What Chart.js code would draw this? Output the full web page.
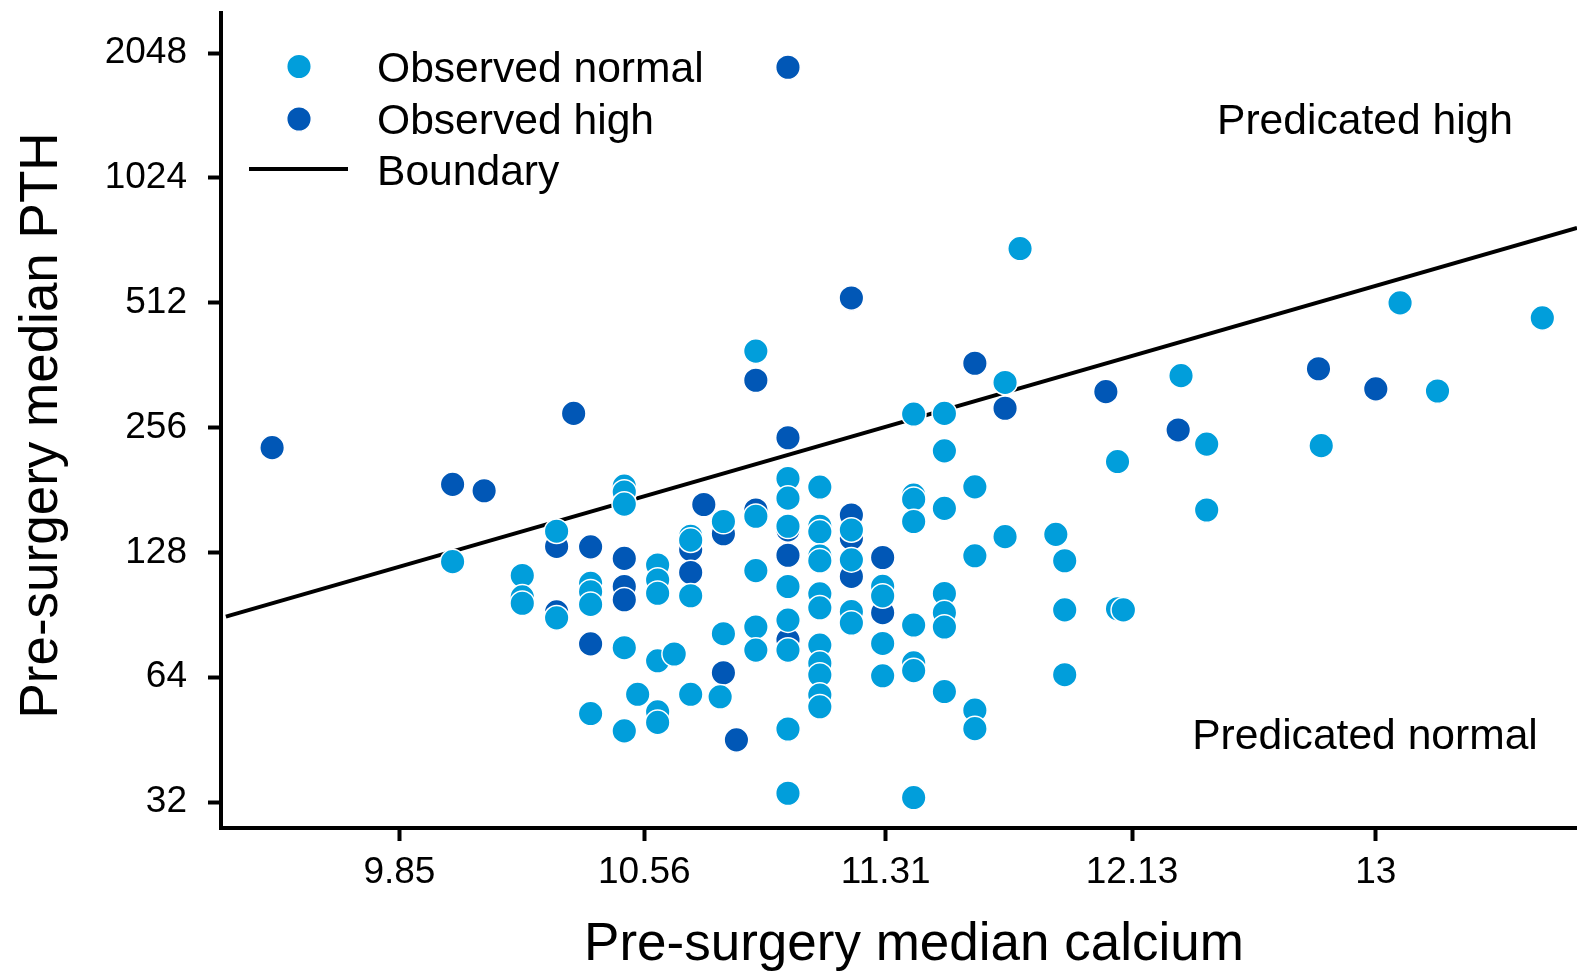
<!DOCTYPE html>
<html><head><meta charset="utf-8">
<script src="https://cdn.jsdelivr.net/npm/chart.js@4/dist/chart.umd.min.js"></script>
<style>html,body{margin:0;padding:0;background:#fff;}canvas{display:block;}</style>
</head><body>
<canvas id="c" width="1577" height="972"></canvas>
<script>
// ---- data ----
const xTickValues = [9.85, 10.56, 11.31, 12.13, 13];
const xTickLabels = ['9.85', '10.56', '11.31', '12.13', '13'];
const yTickValues = [32, 64, 128, 256, 512, 1024, 2048];
const yTickLabels = ['32', '64', '128', '256', '512', '1024', '2048'];
const xRange = [9.363, 13.765];
const yRange = [27.7, 2560];

const observedNormal = [
  [10.0,121.6],
  [10.2,112.6],[10.2,100],[10.2,96.5],
  [10.3,144],[10.3,89],
  [10.4,107.8],[10.4,102.9],[10.4,95.9],[10.4,52.3],
  [10.5,185],[10.5,179],[10.5,167.4],[10.5,75.4],[10.5,47.5],
  [10.54,58.2],
  [10.6,119.4],[10.6,109.8],[10.6,102],[10.6,70.1],[10.6,52.8],[10.6,49.8],
  [10.65,72.8],
  [10.7,140],[10.7,137],[10.7,100.6],[10.7,58.2],
  [10.8,152],[10.8,81.5],[10.79,57.4],
  [10.9,391.5],[10.9,156.5],[10.9,115.7],[10.9,84.6],[10.9,74.4],
  [11.0,193],[11.0,173],[11.0,148],[11.0,105.9],[11.0,87.9],[11.0,74.4],[11.0,48.0],[11.0,33.6],
  [11.1,184],[11.1,148],[11.1,143.5],[11.1,125.5],[11.1,122.2],[11.1,101.7],[11.1,94.1],[11.1,76.5],[11.1,69.2],[11.1,64.8],[11.1,58],[11.1,54.3],
  [11.2,145],[11.2,122.8],[11.2,92.1],[11.2,86.5],
  [11.3,106],[11.3,100.5],[11.3,77.2],[11.3,64.5],
  [11.4,276],[11.4,176],[11.4,172],[11.4,152],[11.4,85.5],[11.4,69.3],[11.4,66.4],[11.4,32.8],
  [11.5,277],[11.5,225],[11.5,163.5],[11.5,101.9],[11.5,91.6],[11.5,84.6],[11.5,59.1],
  [11.6,184.2],[11.6,125.6],[11.6,53.3],[11.6,48.1],
  [11.7,329],[11.7,139.7],
  [11.75,692],
  [11.87,141.5],
  [11.9,122.2],[11.9,93],[11.9,64.9],
  [12.08,212],[12.08,93.6],
  [12.1,93],
  [12.3,341.6],
  [12.39,233.6],[12.39,162],
  [12.8,231.6],
  [13.09,511.7],
  [13.23,313.7],
  [13.63,470.8]
];

const observedHigh = [
  [9.5,229],
  [10.0,186.8],
  [10.09,180.3],
  [10.3,132.3],[10.3,92],
  [10.35,277],
  [10.4,132],[10.4,77],
  [10.5,123.8],[10.5,105.9],[10.5,98.4],
  [10.7,130],[10.7,114.5],
  [10.74,167],
  [10.8,142],[10.8,65.6],
  [10.84,45.2],
  [10.9,162],[10.9,333],
  [11.0,1894],[11.0,242],[11.0,145],[11.0,126],[11.0,78.7],
  [11.2,526],[11.2,157.6],[11.2,138.4],[11.2,112],
  [11.3,124.4],[11.3,91.6],
  [11.6,366],
  [11.7,285],
  [12.04,312.6],
  [12.29,252.7],
  [12.79,355],
  [13.0,317.4]
];

const boundaryCalcium = [9.376, 13.765];
const boundaryPTH = [89.6, 776];

const seriesNames = ['Observed normal', 'Observed high', 'Boundary'];
const regionLabels = ['Predicated high', 'Predicated normal'];
const xTitle = 'Pre-surgery median calcium';
const yTitle = 'Pre-surgery median PTH';

// ---- styling ----
const LIGHT = '#019edb';
const DARK = '#0157b6';
const FONT = '"Liberation Sans", Arial, Helvetica, sans-serif';
const R = 12.3;

const overlay = {
  id: 'overlay',
  afterDraw(chart) {
    const ctx = chart.ctx;
    ctx.save();
    const dot = (x, y, c) => {
      ctx.beginPath();
      ctx.arc(x, y, R, 0, Math.PI * 2);
      ctx.fillStyle = c; ctx.fill();
      ctx.lineWidth = 1.5; ctx.strokeStyle = '#fff'; ctx.stroke();
    };
    dot(299, 66.5, LIGHT);
    dot(299, 119, DARK);
    ctx.beginPath();
    ctx.moveTo(249, 169); ctx.lineTo(348, 169);
    ctx.lineWidth = 4; ctx.strokeStyle = '#000'; ctx.stroke();
    ctx.fillStyle = '#000';
    ctx.font = '42.6px ' + FONT;
    ctx.textAlign = 'left';
    ctx.textBaseline = 'alphabetic';
    ctx.fillText(seriesNames[0], 377, 82);
    ctx.fillText(seriesNames[1], 377, 134);
    ctx.fillText(seriesNames[2], 377, 185);
    ctx.textAlign = 'center';
    ctx.fillText(regionLabels[0], 1365, 134);
    ctx.fillText(regionLabels[1], 1365, 749);
    ctx.font = '53px ' + FONT;
    ctx.fillText(xTitle, 914, 960);
    ctx.translate(57, 425.5);
    ctx.rotate(-Math.PI / 2);
    ctx.fillText(yTitle, 0, 0);
    ctx.restore();
  }
};

const tickFont = { family: FONT, size: 37 };
const zeroPad = (s) => { s.paddingLeft = 0; s.paddingRight = 0; s.paddingTop = 0; s.paddingBottom = 0; };

new Chart(document.getElementById('c'), {
  type: 'scatter',
  data: {
    datasets: [
      {
        label: seriesNames[0],
        data: observedNormal.map(([x, y]) => ({ x, y })),
        backgroundColor: LIGHT, borderColor: '#fff', borderWidth: 1.5,
        pointRadius: R, pointHoverRadius: R, order: 0
      },
      {
        label: seriesNames[1],
        data: observedHigh.map(([x, y]) => ({ x, y })),
        backgroundColor: DARK, borderColor: '#fff', borderWidth: 1.5,
        pointRadius: R, pointHoverRadius: R, order: 1
      },
      {
        label: seriesNames[2],
        data: boundaryCalcium.map((x, i) => ({ x, y: boundaryPTH[i] })),
        showLine: true, borderColor: '#000', borderWidth: 4,
        pointRadius: 0, fill: false, order: 2
      }
    ]
  },
  options: {
    responsive: false,
    animation: false,
    devicePixelRatio: 1,
    events: [],
    layout: { autoPadding: false, padding: { top: 13, right: 0, left: 0, bottom: 0 } },
    plugins: { legend: { display: false }, tooltip: { enabled: false } },
    scales: {
      x: {
        type: 'logarithmic',
        min: xRange[0], max: xRange[1],
        bounds: 'data',
        afterBuildTicks: (s) => { s.ticks = xTickValues.map(v => ({ value: v })); },
        afterFit: (s) => { s.height = 144; zeroPad(s); },
        ticks: {
          autoSkip: false, maxRotation: 0, padding: 10, color: '#000', font: tickFont,
          callback: (v, i) => xTickLabels[i]
        },
        grid: { drawOnChartArea: false, drawTicks: true, tickLength: 13, tickWidth: 4, tickColor: '#000' },
        border: { display: true, color: '#000', width: 4 }
      },
      y: {
        type: 'logarithmic',
        min: yRange[0], max: yRange[1],
        bounds: 'data',
        afterBuildTicks: (s) => { s.ticks = yTickValues.map(v => ({ value: v })); },
        afterFit: (s) => { s.width = 221; zeroPad(s); },
        ticks: {
          autoSkip: false, padding: 21, color: '#000', font: tickFont,
          callback: (v, i) => yTickLabels[i]
        },
        grid: { drawOnChartArea: false, drawTicks: true, tickLength: 13, tickWidth: 4, tickColor: '#000' },
        border: { display: true, color: '#000', width: 4 }
      }
    }
  },
  plugins: [overlay]
});
</script>
</body></html>
